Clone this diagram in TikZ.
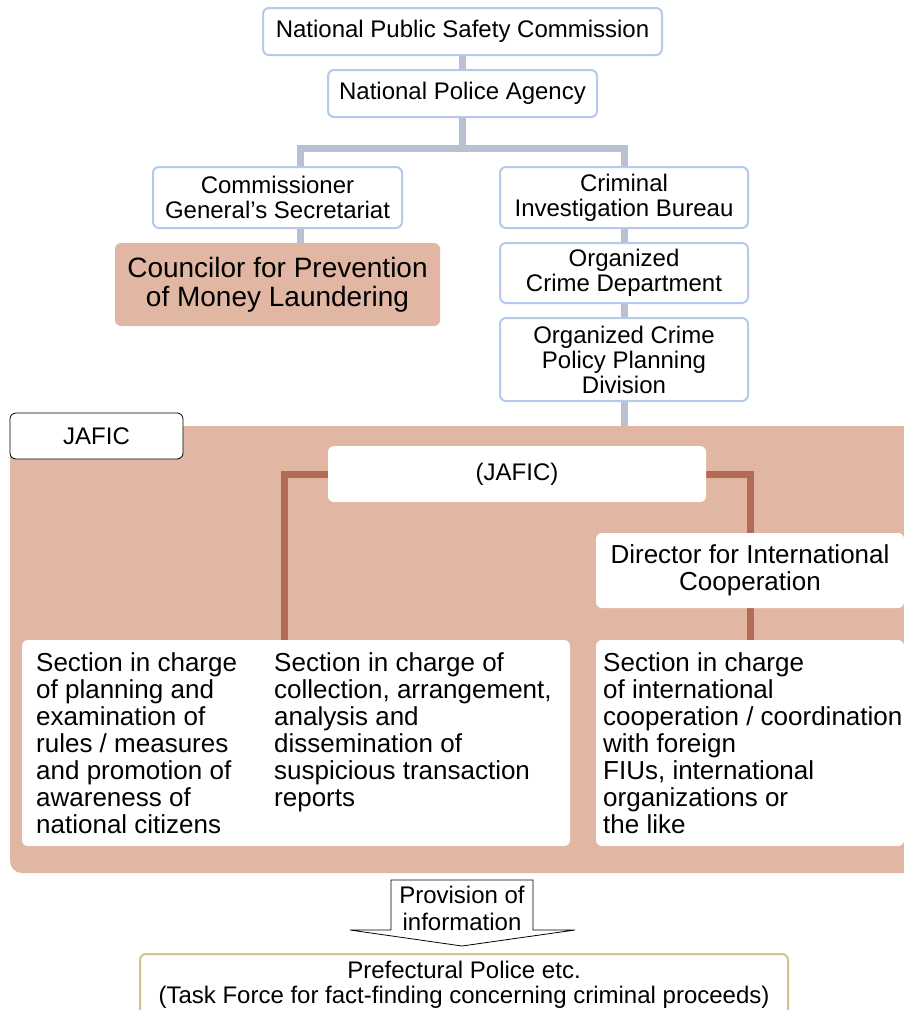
\documentclass[tikz,border=0pt]{standalone}
\usepackage{fontspec}
\setmainfont{Liberation Sans}
\usetikzlibrary{backgrounds}

\definecolor{boxblue}{HTML}{B5C9EA}
\definecolor{linkgrey}{HTML}{B8C1D1}
\definecolor{salmon}{HTML}{E1B6A2}
\definecolor{linkbrown}{HTML}{B36B55}
\definecolor{goldline}{HTML}{D4C193}

\tikzset{
  orgbox/.style={draw=boxblue, line width=2pt, fill=white, rounded corners=6pt,
    align=center, inner sep=0pt, font=\fontsize{24}{25}\selectfont},
  salmonbox/.style={fill=salmon, rounded corners=6pt, align=center, inner sep=0pt,
    font=\fontsize{28}{29}\selectfont},
  whitebox/.style={fill=white, rounded corners=6pt, align=center, inner sep=0pt,
    font=\fontsize{26}{27}\selectfont},
  coltext/.style={anchor=north west, align=left, inner sep=0pt,
    font=\fontsize{26}{27}\selectfont},
  greylink/.style={draw=linkgrey, line width=7pt},
  brownlink/.style={draw=linkbrown, line width=7pt},
}

\begin{document}
\begin{tikzpicture}[x=1pt, y=-1pt]
\clip (0,0) rectangle (904,1010);
\useasboundingbox (0,0) rectangle (904,1010);

% upper hierarchy
\node[orgbox, minimum width=399pt, minimum height=47pt] (npsc) at (462.5,31.5)
  {National Public Safety Commission};
\node[orgbox, minimum width=269pt, minimum height=47pt] (npa) at (462.5,93.5)
  {National Police Agency};
\node[orgbox, minimum width=249pt, minimum height=61pt] (cgs) at (277.5,197.5)
  {Commissioner\\General’s Secretariat};
\node[orgbox, minimum width=248pt, minimum height=61pt] (cib) at (624,197.5)
  {Criminal\\Investigation Bureau};
\node[salmonbox, minimum width=325pt, minimum height=83pt] (councilor) at (277.5,284.5)
  {Councilor for Prevention\\of Money Laundering};
\node[orgbox, minimum width=248pt, minimum height=60pt] (ocd) at (624,273)
  {Organized\\Crime Department};
\node[orgbox, minimum width=248pt, minimum height=83pt] (ocppd) at (624,359.5)
  {Organized Crime\\Policy Planning\\Division};

% JAFIC area
\begin{scope}[on background layer]
  \node[fill=salmon, rounded corners=12pt, inner sep=0pt,
        minimum width=920pt, minimum height=447pt] (jaficarea) at (470,649.5) {};
\end{scope}
\node[draw=black, line width=0.8pt, fill=white, rounded corners=6pt, inner sep=0pt,
      minimum width=173pt, minimum height=46pt, font=\fontsize{24}{25}\selectfont]
  (jaficlabel) at (96.5,436) {JAFIC};
\node[whitebox, font=\fontsize{24}{25}\selectfont, minimum width=378pt, minimum height=56pt]
  (jaficbox) at (517,474) {(JAFIC)};
\node[whitebox, minimum width=308pt, minimum height=75pt] (director) at (750,570.5)
  {Director for International\\Cooperation};
\node[whitebox, minimum width=548pt, minimum height=206pt] (secL) at (296,743) {};
\node[whitebox, minimum width=308pt, minimum height=206pt] (secR) at (750,743) {};

\node[coltext] (secLa) at (36,652)
  {Section in charge\\of planning and\\examination of\\rules / measures\\and promotion of\\awareness of\\national citizens};
\node[coltext] (secLb) at (274,652)
  {Section in charge of\\collection, arrangement,\\analysis and\\dissemination of\\suspicious transaction\\reports};
\node[coltext] (secRa) at (603,652)
  {Section in charge\\of international\\cooperation / coordination\\with foreign\\FIUs, international\\organizations or\\the like};

% provision arrow and prefectural police
\coordinate (arrowtip) at (462,946);
\draw[line width=0.8pt, fill=white]
  (391,880) -- (533,880) -- (533,930) -- (575,930) -- (arrowtip)
  -- (350,930) -- (391,930) -- cycle;
\node[align=center, inner sep=0pt, font=\fontsize{24}{27}\selectfont] (provision) at (462,908.5)
  {Provision of\\information};
\node[orgbox, draw=goldline, minimum width=648pt, minimum height=62pt] (pref) at (464,985)
  {Prefectural Police etc.\\(Task Force for fact-finding concerning criminal proceeds)};

% connectors
\coordinate (junction) at (462.5,148);
\begin{scope}[on background layer]
  \draw[greylink] (npsc.south) -- (npa.north);
  \draw[greylink] (npa.south) -- (junction);
  \draw[greylink] ([xshift=22.5pt]cgs.north) |- (junction) -| (cib.north);
  \draw[greylink] ([xshift=22.5pt]cgs.south) -- ([xshift=22.5pt]councilor.north);
  \draw[greylink] (cib.south) -- (ocd.north);
  \draw[greylink] (ocd.south) -- (ocppd.north);
  \draw[greylink] (ocppd.south) -- (ocppd.south |- jaficarea.north);
  \draw[brownlink] (jaficbox.west) -| ([xshift=-12pt]secL.north);
  \draw[brownlink] (jaficbox.east) -| (director.north);
  \draw[brownlink] (director.south) -- (secR.north);
\end{scope}
\end{tikzpicture}
\end{document}
